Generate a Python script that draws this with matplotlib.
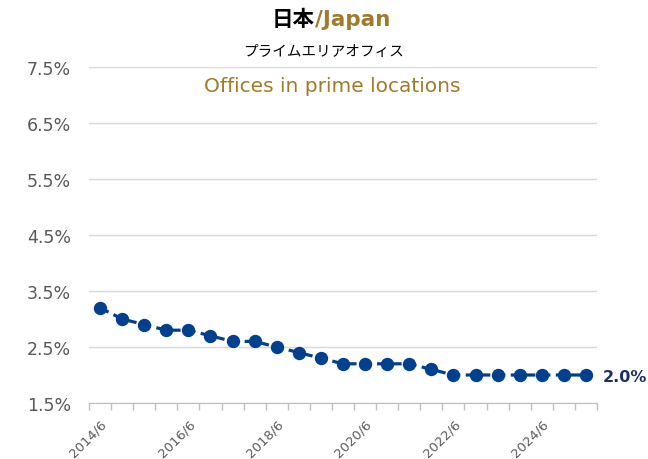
import matplotlib
matplotlib.use('Agg')
import matplotlib.pyplot as plt
import numpy as np

# semiannual prime office cap rates, 2014/6 .. 2025/6
periods = ['2014/6', '2014/12', '2015/6', '2015/12', '2016/6', '2016/12',
           '2017/6', '2017/12', '2018/6', '2018/12', '2019/6', '2019/12',
           '2020/6', '2020/12', '2021/6', '2021/12', '2022/6', '2022/12',
           '2023/6', '2023/12', '2024/6', '2024/12', '2025/6']
rates = [3.2, 3.0, 2.9, 2.8, 2.8, 2.7, 2.6, 2.6, 2.5, 2.4, 2.3, 2.2,
         2.2, 2.2, 2.2, 2.1, 2.0, 2.0, 2.0, 2.0, 2.0, 2.0, 2.0]
y_ticks = [1.5, 2.5, 3.5, 4.5, 5.5, 6.5, 7.5]

plt.rcParams['font.family'] = ['DejaVu Sans', 'Noto Sans CJK JP']

navy = '#00408F'
gold = '#A07C2A'

fig = plt.figure(figsize=(6.48, 4.60), dpi=100)
ax = fig.add_axes([89/648, 1-404/460, (597-89)/648, (404-68)/460])

x = np.arange(len(rates))
ax.plot(x, rates, color=navy, lw=2.3, ls=(0, (3.0, 1.7)), marker='o',
        ms=8.6, mec=navy, mfc=navy, zorder=3, clip_on=False)

ax.set_xlim(-0.5, len(rates) - 0.5)
ax.set_ylim(1.5, 7.5)
ax.set_yticks(y_ticks)
ax.set_yticklabels([f'{v:.1f}%' for v in y_ticks])
ax.yaxis.grid(True, color='#D9D9D9', lw=1)
ax.set_axisbelow(True)
ax.tick_params(axis='y', length=0, pad=13, labelsize=12.5, labelcolor='#595959')

ax.set_xticks(x[::4])
ax.set_xticklabels(periods[::4], rotation=45, ha='right', rotation_mode='anchor')
ax.set_xticks(np.arange(-0.5, len(rates)), minor=True)
ax.tick_params(axis='x', which='major', length=0, pad=10, labelsize=9.5, labelcolor='#595959')
ax.tick_params(axis='x', which='minor', length=5, color='#BFBFBF', width=1)

for s in ['top', 'right', 'left']:
    ax.spines[s].set_visible(False)
ax.spines['bottom'].set_color('#BFBFBF')

ax.annotate(f'{rates[-1]:.1f}%', (x[-1], rates[-1]), xytext=(12, -1),
            textcoords='offset points', va='center', ha='left',
            fontsize=11.5, fontweight='bold', color='#1F3068', annotation_clip=False)

cjk = ['Noto Sans CJK JP', 'DejaVu Sans']
fig.text(0.486, 1-20/460, '日本', ha='right', va='center', fontsize=15.5,
         fontweight='bold', family=cjk, color='black')
fig.text(0.486, 1-20/460, '/Japan', ha='left', va='center', fontsize=15.5,
         fontweight='bold', color=gold)
fig.text(0.5, 1-52/460, 'プライムエリアオフィス', ha='center', va='center',
         fontsize=10.5, family=cjk, color='black')
ax.text(0.512, 1-86/460, 'Offices in prime locations', transform=fig.transFigure,
        ha='center', va='center', fontsize=14.5, color=gold)

fig.savefig('out.png', dpi=100)
